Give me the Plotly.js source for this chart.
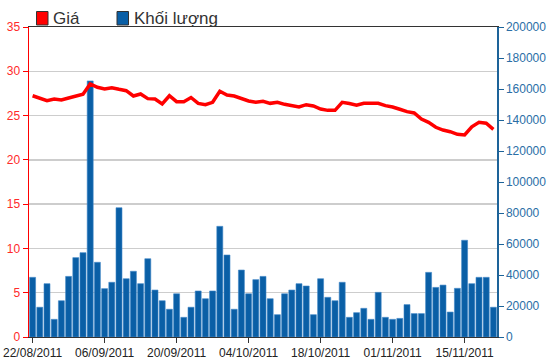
<!DOCTYPE html>
<html>
<head>
<meta charset="utf-8">
<script src="https://cdn.plot.ly/plotly-3.0.1.min.js"></script>
<style>html,body{margin:0;padding:0;background:#fff;}#chart{width:550px;height:364px;}</style>
</head>
<body>
<div id="chart"></div>
<script>
// Trading days
var dates = [
 '22/08/2011','23/08/2011','24/08/2011','25/08/2011','26/08/2011','29/08/2011','30/08/2011','31/08/2011',
 '01/09/2011','05/09/2011','06/09/2011','07/09/2011','08/09/2011','09/09/2011','12/09/2011','13/09/2011',
 '14/09/2011','15/09/2011','16/09/2011','19/09/2011','20/09/2011','21/09/2011','22/09/2011','23/09/2011',
 '26/09/2011','27/09/2011','28/09/2011','29/09/2011','30/09/2011',
 '03/10/2011','04/10/2011','05/10/2011','06/10/2011','07/10/2011','10/10/2011','11/10/2011','12/10/2011',
 '13/10/2011','14/10/2011','17/10/2011','18/10/2011','19/10/2011','20/10/2011','21/10/2011','24/10/2011',
 '25/10/2011','26/10/2011','27/10/2011','28/10/2011','31/10/2011',
 '01/11/2011','02/11/2011','03/11/2011','04/11/2011','07/11/2011','08/11/2011','09/11/2011','10/11/2011',
 '11/11/2011','14/11/2011','15/11/2011','16/11/2011','17/11/2011','18/11/2011','21/11/2011'
];
// Price (Giá)
var price = [
 27.24,26.95,26.68,26.87,26.76,26.98,27.21,27.40,28.57,28.19,
 28.00,28.15,27.97,27.81,27.21,27.44,26.91,26.87,26.31,27.24,
 26.57,26.57,27.04,26.38,26.23,26.50,27.74,27.32,27.21,26.95,
 26.65,26.50,26.61,26.38,26.50,26.27,26.08,25.97,26.23,26.08,
 25.74,25.59,25.59,26.50,26.36,26.16,26.38,26.42,26.38,26.12,
 25.97,25.71,25.44,25.29,24.61,24.24,23.68,23.37,23.18,22.88,
 22.81,23.74,24.24,24.13,23.45
];
// Volume (Khối lượng)
var volume = [
 38500,19200,34400,11400,23400,39100,51200,54400,165200,48200,
 31200,35300,83400,37600,42400,34400,50500,30300,23400,17900,
 27900,12700,19200,29700,24700,29700,71400,52900,17900,43200,
 27900,37000,39100,24700,14400,27900,30300,34400,32900,14400,
 37600,25600,23400,35300,12700,15700,18500,11400,28800,12700,
 11400,12000,20900,15100,15100,41700,32000,33500,16100,31400,
 62400,34400,38500,38500,19200
];
var tickDates = ['22/08/2011','06/09/2011','20/09/2011','04/10/2011','18/10/2011','01/11/2011','15/11/2011'];
var leftTicks = [0,5,10,15,20,25,30,35];
var rightTicks = [0,20000,40000,60000,80000,100000,120000,140000,160000,180000,200000];
var seriesNames = ['Giá','Khối lượng'];
var seriesColors = ['#FF0000','#0A5FA6'];

var M = {l:29, r:53, t:27, b:27}, W = 550, H = 364;
var pw = W - M.l - M.r, ph = H - M.t - M.b;
function px(x){ return (x - M.l) / pw; }
function py(y){ return (H - M.b - y) / ph; }

var traces = [
 {type:'bar', x:dates, y:volume, name:seriesNames[1], yaxis:'y',
  marker:{color:seriesColors[1], line:{color:'#3F86C8', width:0.6}}, hoverinfo:'x+y'},
 {type:'scatter', mode:'lines', x:dates, y:price, name:seriesNames[0], yaxis:'y2',
  line:{color:seriesColors[0], width:3.5}, hoverinfo:'x+y'}
];

var legendItems = [
 {x0:36.5, x1:48, tx:51, c:seriesColors[0], t:seriesNames[0]},
 {x0:117, x1:128.5, tx:131.5, c:seriesColors[1], t:seriesNames[1]}
];
var shapes = legendItems.map(function(it){
 return {type:'rect', xref:'paper', yref:'paper', x0:px(it.x0), x1:px(it.x1), y0:py(25), y1:py(11.5),
  fillcolor:it.c, line:{color:'#333', width:1}};
});
var annotations = legendItems.map(function(it){
 return {xref:'paper', yref:'paper', x:px(it.tx), y:py(18.5), xanchor:'left', yanchor:'middle',
  text:it.t, showarrow:false, font:{family:'Liberation Sans, Arial, sans-serif', size:17, color:'#333'}};
});

var layout = {
 width:W, height:H, margin:M, paper_bgcolor:'#fff', plot_bgcolor:'#fff',
 showlegend:false, bargap:0.17,
 font:{family:'Liberation Sans, Arial, sans-serif', size:12},
 xaxis:{type:'category', range:[-0.5, dates.length-0.5], tickmode:'array', tickvals:tickDates, ticktext:tickDates,
  showgrid:false, showline:true, linecolor:'#333', linewidth:1, mirror:true,
  ticks:'outside', ticklen:5, tickcolor:'#333', tickangle:0,
  tickfont:{size:12, color:'#222'}, fixedrange:true},
 yaxis:{side:'right', range:[0,200000], tickmode:'array', tickvals:rightTicks, tickformat:'d',
  showgrid:false, zeroline:false, showline:true, linecolor:'#1D6399', linewidth:1.5,
  ticks:'outside', ticklen:5, tickcolor:'#1D6399', tickfont:{size:12, color:'#2A6EA6'}, fixedrange:true},
 yaxis2:{side:'left', overlaying:'y', range:[0,35], tickmode:'array', tickvals:leftTicks,
  showgrid:true, gridcolor:'#CDCDCD', gridwidth:1.5, zeroline:false,
  showline:true, linecolor:'#FF0000', linewidth:1.5,
  ticks:'outside', ticklen:5, tickcolor:'#FF0000', tickfont:{size:12, color:'#FF2A2A'}, fixedrange:true},
 shapes:shapes, annotations:annotations
};
Plotly.newPlot('chart', traces, layout, {displayModeBar:false, staticPlot:true});
</script>
</body>
</html>
